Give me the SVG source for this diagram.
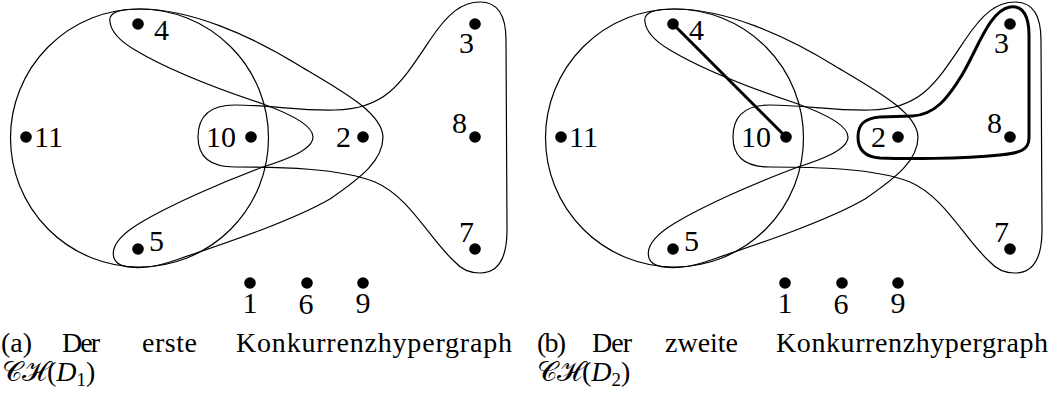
<svg xmlns="http://www.w3.org/2000/svg" xmlns:xlink="http://www.w3.org/1999/xlink" width="1049" height="394" viewBox="0 0 1049 394">
<style>
.edge{fill:none;stroke:#000;stroke-width:1.2}
.bold{fill:none;stroke:#000;stroke-width:3;stroke-linecap:round;stroke-linejoin:round}
.dot{fill:#000}
.lbl{font-family:"Liberation Serif","DejaVu Serif",serif;font-size:30px;fill:#000}
.cap{font-family:"Liberation Serif","DejaVu Serif",serif;font-size:28px;fill:#000}
</style>
<defs>
<circle id="he-circle" cx="139.5" cy="138" r="129"/>
<path id="he-chevron" d="M110,22 C108,12 120,9 140,9 C190,9 250,35 300,66 C340,90 382,112 383,137 C383,160 362,177 330,199 C290,222 220,245 170,262 C145,270 118,270 114,258 C110,245 125,232 140,223 C170,205 220,183 263,167 C285,160 313,150 313,137 C313,124 285,112 263,104 C215,88 165,68 135,50 C118,40 111,30 110,22 Z"/>
<path id="he-fish" d="M198,137 C198,116 210,105 235,105 C270,105 300,111 335,110 C385,109 400,85 430,40 C448,13 462,2 480,2 C498,2 506,15 506,40 L507,230 C507,255 500,273 480,273 C470,273 462,270 455,262 C430,240 410,197 375,182 C340,168 280,167 235,167 C210,167 198,157 198,137 Z"/>
</defs>

<g id="panel-a">
  <g id="a-connectors">
    <use xlink:href="#he-circle" class="edge"/>
    <use xlink:href="#he-chevron" class="edge"/>
    <use xlink:href="#he-fish" class="edge"/>
  </g>
  <g id="a-n4"><circle class="dot" cx="138" cy="24" r="5.8"/><text class="lbl" x="154" y="40">4</text></g>
  <g id="a-n11"><circle class="dot" cx="26" cy="137" r="5.8"/><text class="lbl" x="34" y="147">11</text></g>
  <g id="a-n10"><circle class="dot" cx="251" cy="137" r="5.8"/><text class="lbl" x="206" y="147">10</text></g>
  <g id="a-n2"><circle class="dot" cx="363" cy="137" r="5.8"/><text class="lbl" x="336" y="147">2</text></g>
  <g id="a-n3"><circle class="dot" cx="475" cy="24" r="5.8"/><text class="lbl" x="459" y="53">3</text></g>
  <g id="a-n8"><circle class="dot" cx="475" cy="137" r="5.8"/><text class="lbl" x="452" y="133">8</text></g>
  <g id="a-n7"><circle class="dot" cx="475" cy="249" r="5.8"/><text class="lbl" x="459" y="242">7</text></g>
  <g id="a-n5"><circle class="dot" cx="138" cy="249" r="5.8"/><text class="lbl" x="149" y="251">5</text></g>
  <g id="a-n1"><circle class="dot" cx="250" cy="283" r="5.8"/><text class="lbl" x="250" y="313" text-anchor="middle">1</text></g>
  <g id="a-n6"><circle class="dot" cx="307" cy="283" r="5.8"/><text class="lbl" x="306" y="314" text-anchor="middle">6</text></g>
  <g id="a-n9"><circle class="dot" cx="363" cy="283" r="5.8"/><text class="lbl" x="363" y="313" text-anchor="middle">9</text></g>
  <g id="a-caption">
    <text class="cap" x="1" y="352" textLength="31">(a)</text>
    <text class="cap" x="62" y="352" textLength="38">Der</text>
    <text class="cap" x="142" y="352" textLength="55">erste</text>
    <text class="cap" x="236" y="352" textLength="276">Konkurrenzhypergraph</text>
    <text class="cap" x="2" y="381">𝒞ℋ(<tspan font-style="italic">D</tspan><tspan font-size="19" dy="5">1</tspan><tspan dy="-5">)</tspan></text>
  </g>
</g>

<g id="panel-b" transform="translate(535,0)">
  <g id="b-connectors">
    <use xlink:href="#he-circle" class="edge"/>
    <use xlink:href="#he-chevron" class="edge"/>
    <use xlink:href="#he-fish" class="edge"/>
    <path class="bold" d="M323,137 C323,124 330,118 345,117 L377,116 C400,115 413,98 427,75 C443,48 455,10 475,7 C489,5 494,18 494,35 L494,138 C494,150 485,153 465,155 C425,159 370,159 345,158 C330,157 323,150 323,137 Z"/>
    <line class="bold" x1="138" y1="24" x2="251" y2="137"/>
  </g>
  <g id="b-n4"><circle class="dot" cx="138" cy="24" r="5.8"/><text class="lbl" x="154" y="40">4</text></g>
  <g id="b-n11"><circle class="dot" cx="26" cy="137" r="5.8"/><text class="lbl" x="34" y="147">11</text></g>
  <g id="b-n10"><circle class="dot" cx="251" cy="137" r="5.8"/><text class="lbl" x="206" y="147">10</text></g>
  <g id="b-n2"><circle class="dot" cx="363" cy="137" r="5.8"/><text class="lbl" x="336" y="147">2</text></g>
  <g id="b-n3"><circle class="dot" cx="475" cy="24" r="5.8"/><text class="lbl" x="459" y="53">3</text></g>
  <g id="b-n8"><circle class="dot" cx="475" cy="137" r="5.8"/><text class="lbl" x="452" y="133">8</text></g>
  <g id="b-n7"><circle class="dot" cx="475" cy="249" r="5.8"/><text class="lbl" x="459" y="242">7</text></g>
  <g id="b-n5"><circle class="dot" cx="138" cy="249" r="5.8"/><text class="lbl" x="149" y="251">5</text></g>
  <g id="b-n1"><circle class="dot" cx="250" cy="283" r="5.8"/><text class="lbl" x="250" y="313" text-anchor="middle">1</text></g>
  <g id="b-n6"><circle class="dot" cx="307" cy="283" r="5.8"/><text class="lbl" x="306" y="314" text-anchor="middle">6</text></g>
  <g id="b-n9"><circle class="dot" cx="363" cy="283" r="5.8"/><text class="lbl" x="363" y="313" text-anchor="middle">9</text></g>
  <g id="b-caption">
    <text class="cap" x="2" y="352" textLength="29">(b)</text>
    <text class="cap" x="57" y="352" textLength="40">Der</text>
    <text class="cap" x="130" y="352" textLength="73">zweite</text>
    <text class="cap" x="241" y="352" textLength="272">Konkurrenzhypergraph</text>
    <text class="cap" x="2" y="381">𝒞ℋ(<tspan font-style="italic">D</tspan><tspan font-size="19" dy="5">2</tspan><tspan dy="-5">)</tspan></text>
  </g>
</g>
</svg>
